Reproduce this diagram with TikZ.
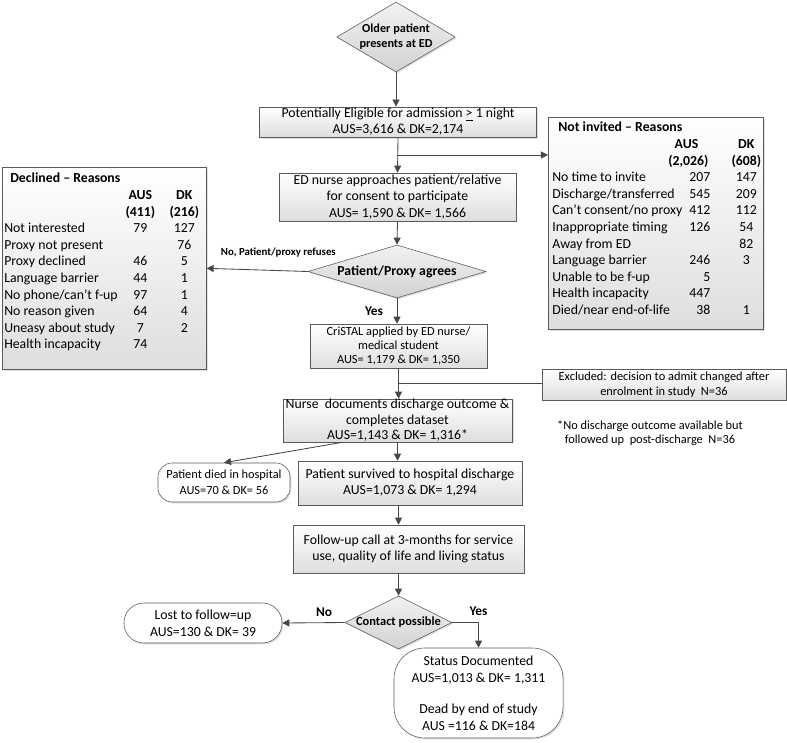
\documentclass[tikz,border=0pt]{standalone}
\usepackage{fontspec}
\setmainfont{Carlito}
\usepackage{array}
\usetikzlibrary{shapes.geometric,positioning,shadows,arrows.meta}
\definecolor{boxline}{HTML}{5A5A5A}
\definecolor{boxfill}{HTML}{DEDEDE}
\definecolor{diafill}{HTML}{D2D2D2}
\definecolor{linkgray}{HTML}{474747}

\begin{document}
\begin{tikzpicture}[x=0.025cm,y=-0.025cm]
    \tikzstyle{stepbox} = [draw=boxline,rectangle,top color=white,bottom color=boxfill,drop shadow={opacity=0.25,shadow xshift=1pt,shadow yshift=-1pt},align=center,inner xsep=2pt,inner ysep=1pt,font=\fontsize{9.8}{11.5}\selectfont]
    \tikzstyle{decision} = [draw=boxline,diamond,aspect=1.8,top color=black!5,bottom color=diafill,drop shadow={opacity=0.25,shadow xshift=1pt,shadow yshift=-1pt},align=center,inner sep=0pt,font=\bfseries\fontsize{9.8}{11}\selectfont]
    \tikzstyle{outcome} = [draw=boxline,rectangle,fill=white,drop shadow={opacity=0.25,shadow xshift=1pt,shadow yshift=-1pt},align=center,inner sep=1pt,font=\fontsize{9.8}{11.8}\selectfont]
    \tikzstyle{reasons} = [draw=boxline,rectangle,anchor=north west,top color=white,bottom color=boxfill,drop shadow={opacity=0.25,shadow xshift=1pt,shadow yshift=-1pt},inner sep=0pt]
    \tikzstyle{tabtext} = [anchor=north west,inner sep=0pt,font=\fontsize{9.8}{11.8}\selectfont]
    \tikzstyle{lbl} = [inner sep=0pt,font=\bfseries\fontsize{9.5}{11}\selectfont]
    \tikzstyle{link} = [draw=linkgray,line width=0.6pt]
    \tikzstyle{arrow} = [link,-{Triangle[length=5pt,width=5pt]}]
    \useasboundingbox (0,0) rectangle (787,742);

    % main flow
    \node[decision,minimum width=2.95cm,minimum height=1.75cm,font=\bfseries\fontsize{8.7}{10.5}\selectfont] (older) at (396,37) {Older patient\\presents at ED};
    \node[stepbox,minimum width=6.925cm,minimum height=0.75cm] (eligible) at (398,122) {Potentially Eligible for admission \underline{>} 1 night\\AUS=3,616 \& DK=2,174};
    \node[stepbox,minimum width=5.925cm,minimum height=1.2cm] (ednurse) at (397.5,197) {ED nurse approaches patient/relative\\for consent to participate\\AUS= 1,590 \& DK= 1,566};
    \node[decision,aspect=3.5,minimum width=4.45cm,minimum height=1.325cm] (agrees) at (397,271.5) {Patient/Proxy agrees};
    \node[stepbox,minimum width=4.425cm,minimum height=1.1cm,font=\fontsize{8.8}{10.3}\selectfont] (cristal) at (398.5,346) {CriSTAL applied by ED nurse/\\medical student\\AUS= 1,179 \& DK= 1,350};
    \node[stepbox,minimum width=5.725cm,minimum height=1.075cm,inner ysep=-1pt,font=\fontsize{9.8}{11}\selectfont] (nurse) at (397.5,420.5) {Nurse\ \ documents discharge outcome \&\\completes dataset\\AUS=1,143 \& DK= 1,316*};
    \node[outcome,minimum width=3.3cm,minimum height=0.975cm,rounded corners=10pt,font=\fontsize{8.8}{11.3}\selectfont] (died) at (224,482.5) {Patient died in hospital\\AUS=70 \& DK= 56};
    \node[stepbox,minimum width=5.6cm,minimum height=1.1cm] (survived) at (410,483) {Patient survived to hospital discharge\\AUS=1,073 \& DK= 1,294};
    \node[stepbox,minimum width=5.775cm,minimum height=1.2cm] (followup) at (408.5,549) {Follow-up call at 3-months for service\\use, quality of life and living status};
    \node[decision,aspect=2,minimum width=2.675cm,minimum height=1.325cm,font=\bfseries\fontsize{8.85}{10}\selectfont] (contact) at (398.5,622.5) {Contact possible};
    \node[outcome,minimum width=3.95cm,minimum height=1cm,rounded corners=14pt] (lost) at (203,623) {Lost to follow=up\\AUS=130 \& DK= 39};
    \node[outcome,minimum width=4.225cm,minimum height=2.25cm,rounded corners=22pt] (status) at (478.5,693) {Status Documented\\AUS=1,013 \& DK= 1,311\\[10.5pt]Dead by end of study\\AUS =116 \& DK=184};

    % side boxes
    \node[reasons,minimum width=5.1cm,minimum height=5.05cm] (declinedbox) at (2,167) {};
    \node[tabtext] (declinedtab) at (4,171) {%
    \begin{tabular}{@{}p{3.025cm}@{}>{\centering\arraybackslash}p{0.75cm}@{}>{\centering\arraybackslash}p{1.45cm}@{}}
    \multicolumn{3}{@{\hspace{0.15cm}}l@{}}{\textbf{Declined -- Reasons}}\\
     & \textbf{AUS} & \makebox[0pt]{\textbf{DK}}\hspace*{-0.1cm}\\
     & \makebox[0pt]{\textbf{(411)}} & \makebox[0pt]{\textbf{(216)}}\hspace*{-0.1cm}\\
    Not interested & 79 & 127\\
    Proxy not present & & 76\\
    Proxy declined & 46 & 5\\
    Language barrier & 44 & 1\\
    No phone/can't f-up & 97 & 1\\
    No reason given & 64 & 4\\
    Uneasy about study & 7 & 2\\
    Health incapacity & 74 &
    \end{tabular}};
    \node[reasons,minimum width=5.375cm,minimum height=5.3cm] (notinvbox) at (548,117) {};
    \node[tabtext] (notinvtab) at (552,120) {%
    \begin{tabular}{@{}p{3.25cm}@{}>{\raggedleft\arraybackslash}p{0.7cm}@{}>{\centering\arraybackslash}p{1.8cm}@{}}
    \multicolumn{3}{@{\hspace{0.15cm}}l@{}}{\textbf{Not invited -- Reasons}}\\
     & \leavevmode\llap{\textbf{AUS}}\hspace*{0.3cm} & \makebox[0pt]{\textbf{DK}}\hspace*{-0.15cm}\\
     & \leavevmode\llap{\textbf{(2,026)}}\hspace*{0.05cm} & \makebox[0pt]{\textbf{(608)}}\hspace*{-0.15cm}\\
    No time to invite & 207 & 147\\
    Discharge/transferred & 545 & 209\\
    Can't consent/no proxy & 412 & 112\\
    Inappropriate timing & 126 & 54\\
    Away from ED & & 82\\
    Language barrier & 246 & 3\\
    Unable to be f-up & 5 & \\
    Health incapacity & 447 & \\
    Died/near end-of-life & 38 & 1
    \end{tabular}};
    \node[stepbox,minimum width=6.1cm,minimum height=0.775cm,font=\fontsize{8.8}{10.7}\selectfont] (excluded) at (664,384.5) {Excluded: decision to admit changed after\\enrolment in study\ \ N=36};
    \node[align=center,font=\fontsize{8.8}{10}\selectfont] (footnote) at (650,433) {*No discharge outcome available but\\followed up\ \ post-discharge\ \ N=36};

    % connectors
    \coordinate (split1) at (397,155);
    \coordinate (split2) at (398.5,383);
    \draw[arrow] (older.south) -- (older.south |- eligible.north);
    \draw[arrow] (eligible.south) -- (ednurse.north);
    \draw[arrow] (split1) -- (split1 -| notinvbox.west);
    \draw[arrow] (ednurse.south) -- (agrees.north);
    \draw[arrow] (agrees.west) -- node[lbl,pos=0.29,above=0.33cm,font=\bfseries\fontsize{7.7}{9}\selectfont] {No, Patient/proxy refuses} (declinedbox.east);
    \draw[arrow] (agrees.south) -- node[lbl,left=0.34cm] {Yes} (agrees.south |- cristal.north);
    \draw[arrow] (cristal.south) -- (cristal.south |- nurse.north);
    \draw[link] (split2) -- (split2 -| excluded.west);
    \draw[arrow] ([xshift=-1.375cm]nurse.south) -- (died.north);
    \draw[arrow] (nurse.south) -- (nurse.south |- survived.north);
    \draw[arrow] (contact |- survived.south) -- (contact |- followup.north);
    \draw[arrow] (contact |- followup.south) -- (contact.north);
    \draw[arrow] (contact.west) -- node[lbl,pos=0.33,above=0.15cm] {No} (lost.east);
    \draw[arrow] (contact.east) -| node[lbl,pos=0.5,above=0.15cm] {Yes} (status.north);
\end{tikzpicture}
\end{document}
